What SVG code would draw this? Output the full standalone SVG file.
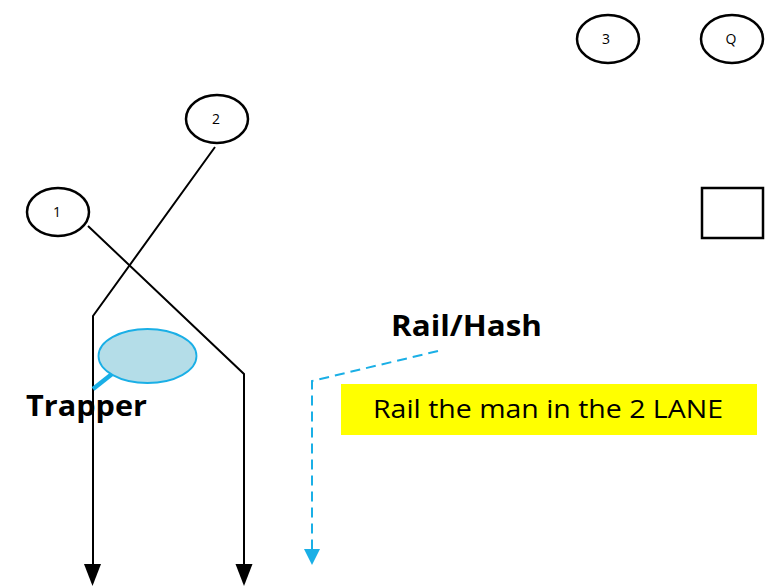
<svg xmlns="http://www.w3.org/2000/svg" width="768" height="587" viewBox="0 0 768 587">
  <style>
    .player { fill: #ffffff; stroke: #000000; stroke-width: 2.5; }
    .num { font-family: "Open Sans", "Liberation Sans", sans-serif; font-size: 14px; fill: #000; text-anchor: middle; }
    .route { fill: none; stroke: #000000; stroke-width: 2; }
    .dash { fill: none; stroke: #1aafe6; stroke-width: 2; stroke-dasharray: 10 6; }
    .label { font-family: "Open Sans", "Liberation Sans", sans-serif; font-weight: bold; fill: #000; }
  </style>

  <g id="connectors">
    <path class="route" d="M215,147 L93,316 L93,566"/>
    <path d="M84,564 L101,564 L92.5,586 Z" fill="#000"/>
    <path class="route" d="M88,226 L244,374 L244,566"/>
    <path d="M235.5,564 L252.5,564 L244,586 Z" fill="#000"/>
    <path class="dash" d="M438,351 L312,381 L312,552"/>
    <path d="M304,549 L320,549 L312,565 Z" fill="#1aafe6"/>
  </g>

  <g id="player-1">
    <ellipse class="player" cx="58" cy="212" rx="31" ry="24"/>
    <text class="num" x="57" y="217">1</text>
  </g>
  <g id="player-2">
    <ellipse class="player" cx="217" cy="119" rx="31" ry="24"/>
    <text class="num" x="216" y="124">2</text>
  </g>
  <g id="player-3">
    <ellipse class="player" cx="608" cy="39" rx="31" ry="24"/>
    <text class="num" x="606" y="44">3</text>
  </g>
  <g id="player-q">
    <ellipse class="player" cx="732" cy="39" rx="31" ry="24"/>
    <text class="num" x="731" y="44">Q</text>
  </g>
  <g id="box">
    <rect x="702" y="188" width="61" height="50" fill="#fff" stroke="#000" stroke-width="2.5"/>
  </g>

  <g id="trapper">
    <line x1="112" y1="374" x2="93" y2="389" stroke="#1aafe6" stroke-width="4.5"/>
    <ellipse cx="147.5" cy="356" rx="49" ry="27" fill="#b4dde8" stroke="#1aafe6" stroke-width="1.8"/>
    <text class="label" x="26" y="416" font-size="29" textLength="121" lengthAdjust="spacingAndGlyphs">Trapper</text>
  </g>

  <g id="rail-hash">
    <text class="label" x="391" y="336" font-size="29" textLength="151" lengthAdjust="spacingAndGlyphs">Rail/Hash</text>
  </g>

  <g id="note">
    <rect x="341" y="384" width="416" height="51" fill="#ffff00"/>
    <text x="373" y="418" font-family="Open Sans, Liberation Sans, sans-serif" font-size="25" fill="#000" textLength="350" lengthAdjust="spacingAndGlyphs">Rail the man in the 2 LANE</text>
  </g>
</svg>
